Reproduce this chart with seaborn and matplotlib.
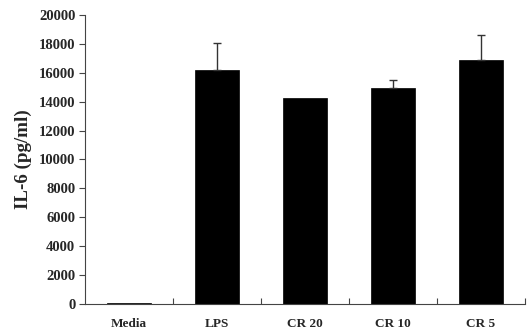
import matplotlib
matplotlib.use("Agg")
import matplotlib.pyplot as plt
import seaborn as sns
import pandas as pd
import numpy as np

categories = ["Media", "LPS", "CR 20", "CR 10", "CR 5"]
values = [50, 16200, 14250, 14950, 16900]
errors = [0, 1850, 0, 550, 1700]
yticks = [0, 2000, 4000, 6000, 8000, 10000, 12000, 14000, 16000, 18000, 20000]

sns.set_style("ticks")
plt.rcParams['font.family'] = ['Liberation Serif', 'DejaVu Serif']

df = pd.DataFrame({"group": categories, "il6": values})

fig = plt.figure(figsize=(5.28, 3.34), dpi=100)
ax = fig.add_axes([0.161, 0.09, 0.833, 0.865])
sns.barplot(data=df, x="group", y="il6", color="black", width=0.5,
            saturation=1, ax=ax, edgecolor="black", linewidth=0.5)
xs = np.arange(len(categories))
err_idx = [i for i, e in enumerate(errors) if e > 0]
ax.errorbar(xs[err_idx], [values[i] for i in err_idx],
            yerr=[np.zeros(len(err_idx)), [errors[i] for i in err_idx]], fmt="none",
            ecolor="#333333", elinewidth=1.0, capsize=3, capthick=1.0)

ax.set_xlim(-0.5, len(categories) - 0.5)
ax.set_ylim(0, 20000)
ax.set_yticks(yticks)
ax.set_yticklabels([str(t) for t in yticks], fontweight="bold", fontsize=10.5)
ax.set_xticks(xs)
ax.set_xticklabels(categories, fontweight="bold", fontsize=9.5)
ax.tick_params(axis="x", which="major", length=0, pad=10)
ax.set_xticks(np.arange(0.5, len(categories)), minor=True)
ax.tick_params(axis="x", which="minor", direction="in", length=4, width=0.8, color="#444444")
ax.tick_params(axis="y", direction="out", length=4, width=0.8, color="#444444", pad=3)
ax.set_xlabel("")
ax.set_ylabel("IL-6 (pg/ml)", fontweight="bold", fontsize=13.7, labelpad=5)
for s in ["top", "right"]:
    ax.spines[s].set_visible(False)
for s in ["left", "bottom"]:
    ax.spines[s].set_linewidth(0.8)
    ax.spines[s].set_color("#444444")

fig.savefig("out.png", dpi=100)
